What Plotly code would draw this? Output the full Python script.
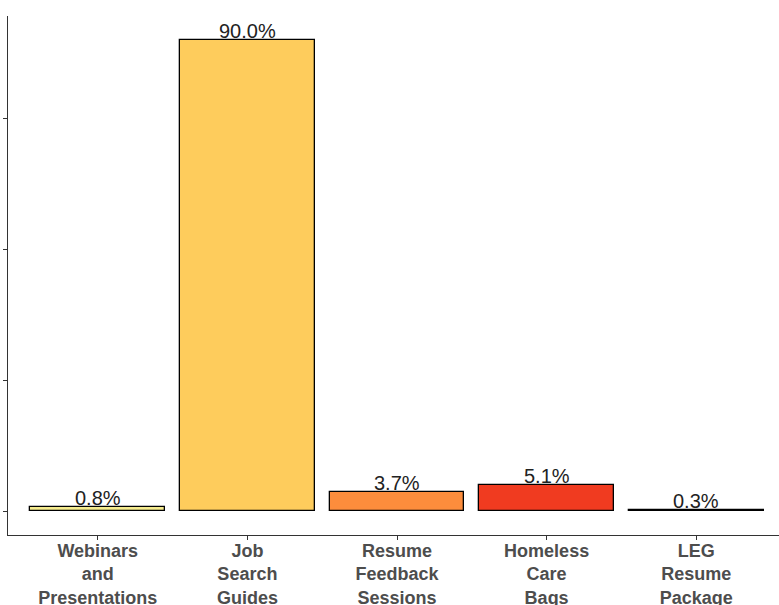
import plotly.graph_objects as go

categories = ["Webinars<br>and<br>Presentations", "Job<br>Search<br>Guides",
              "Resume<br>Feedback<br>Sessions", "Homeless<br>Care<br>Bags",
              "LEG<br>Resume<br>Package"]
values = [0.8, 90.0, 3.7, 5.1, 0.3]
labels = ["0.8%", "90.0%", "3.7%", "5.1%", "0.3%"]
colors = ["#F6EC8E", "#FECC5C", "#FD8D3C", "#F03B20", "#BD0026"]
y_ticks = [0, 25, 50, 75]

x_pos = list(range(1, len(categories) + 1))

fig = go.Figure()
fig.add_trace(go.Bar(
    x=x_pos, y=values, width=0.9,
    marker=dict(color=colors, line=dict(color="black", width=1.3)),
    hoverinfo="skip",
))

for xp, v, t in zip(x_pos, values, labels):
    fig.add_annotation(x=xp, y=v, text=t, showarrow=False, yanchor="bottom",
                       yshift=-4, font=dict(family="Liberation Sans, Arial", size=20, color="#222222"))

fig.update_layout(
    width=779, height=605,
    margin=dict(l=8, r=0, t=16, b=70, autoexpand=False),
    paper_bgcolor="white", plot_bgcolor="white",
    showlegend=False,
    bargap=0,
)
fig.update_xaxes(
    range=[0.4, 5.6 - 7 / 149.5],
    tickvals=x_pos, ticktext=categories,
    automargin=False,
    showline=True, linecolor="#333333", linewidth=1.3,
    ticks="outside", ticklen=4, tickcolor="#333333", tickwidth=1.2,
    ticklabelstandoff=-5,
    showgrid=False, zeroline=False,
    tickfont=dict(family="Liberation Sans, Arial", size=18, color="#4D4D4D", weight="bold"),
)
fig.update_yaxes(
    range=[-4.5, 94.5],
    tickvals=y_ticks, showticklabels=False,
    automargin=False,
    showline=True, linecolor="#333333", linewidth=1.3,
    ticks="outside", ticklen=4, tickcolor="#333333", tickwidth=1.2,
    showgrid=False, zeroline=False,
)

fig.write_html("out.html")
